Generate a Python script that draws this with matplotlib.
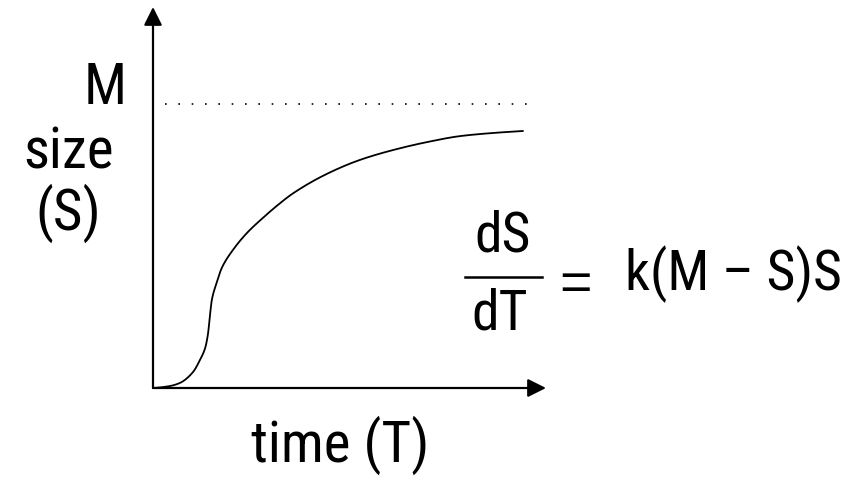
import matplotlib
matplotlib.use("Agg")
import matplotlib.pyplot as plt
import numpy as np

# Data (time T, size S as a fraction of M)
time_T = [0.0, 0.46, 0.73, 1.08, 1.27, 1.41, 1.49, 1.54, 1.59, 1.70, 1.86, 2.16, 2.54, 2.97,
          3.38, 3.78, 4.70, 5.59, 6.49, 7.41, 8.30, 9.19, 10.0]
size_S = [0.0, 0.007, 0.018, 0.056, 0.099, 0.141, 0.194, 0.257, 0.31, 0.363, 0.423, 0.486,
          0.546, 0.599, 0.645, 0.685, 0.754, 0.803, 0.838, 0.866, 0.887, 0.898, 0.905]
M_level = 1.0
x_label = "time (T)"
y_labels = ["M", "size", "(S)"]
equation_num = "dS"
equation_den = "dT"
equation_eq = "="
equation_rhs = "k(M \u2013 S)S"

W, H = 855, 479
fig = plt.figure(figsize=(W / 100, H / 100), dpi=100)
fam = ["Liberation Sans Narrow", "Roboto Condensed", "Open Sans Condensed", "Liberation Sans", "DejaVu Sans"]

def fx(px):
    return px / W

def fy(py):
    return 1 - py / H

# axes: pixel x 153..523 -> T 0..10 ; pixel y 388..104 -> S 0..1
PX_PER_T = 37.0
PX_PER_S = 284.0
ax = fig.add_axes([fx(153), fy(388), 10 * PX_PER_T / W, PX_PER_S / H])
ax.set_xlim(0, 10)
ax.set_ylim(0, 1)
ax.axis("off")

def pchip(x, y, xn):
    x = np.asarray(x, float); y = np.asarray(y, float)
    h = np.diff(x)
    d = np.diff(y) / h
    m = np.zeros_like(y)
    for k in range(1, len(x) - 1):
        if d[k - 1] * d[k] <= 0:
            m[k] = 0
        else:
            w1 = 2 * h[k] + h[k - 1]
            w2 = h[k] + 2 * h[k - 1]
            m[k] = (w1 + w2) / (w1 / d[k - 1] + w2 / d[k])
    m[0] = d[0] * 0.5
    m[-1] = d[-1]
    out = np.empty_like(xn)
    idx = np.clip(np.searchsorted(x, xn) - 1, 0, len(x) - 2)
    for i, (xi, k) in enumerate(zip(xn, idx)):
        hk = h[k]
        u = (xi - x[k]) / hk
        h00 = 2 * u**3 - 3 * u**2 + 1
        h10 = u**3 - 2 * u**2 + u
        h01 = -2 * u**3 + 3 * u**2
        h11 = u**3 - u**2
        out[i] = h00 * y[k] + h10 * hk * m[k] + h01 * y[k + 1] + h11 * hk * m[k + 1]
    return out

tt = np.linspace(time_T[0], time_T[-1], 1000)
ax.plot(tt, pchip(time_T, size_S, tt), color="black", lw=1.3, clip_on=False,
        solid_capstyle="round")

# dotted asymptote at M
ax.plot([(165 - 153) / PX_PER_T, (527 - 153) / PX_PER_T], [M_level, M_level], color="black",
        lw=1.2, linestyle=(0, (1, 7)), clip_on=False)

# axes arrows
x_end = (546 - 153) / PX_PER_T
y_end = (388 - 7) / PX_PER_S
astyle = "-|>,head_length=1.1,head_width=0.55"
ax.annotate("", xy=(x_end, 0), xytext=(0, 0),
            arrowprops=dict(arrowstyle=astyle, color="black", lw=1.6,
                            shrinkA=0, shrinkB=0), annotation_clip=False)
ax.annotate("", xy=(0, y_end), xytext=(0, 0),
            arrowprops=dict(arrowstyle=astyle, color="black", lw=1.6,
                            shrinkA=0, shrinkB=0), annotation_clip=False)

fs_left = 41
fs = 40
# y labels
fig.text(fx(105), fy(104), y_labels[0], ha="center", va="baseline", fontsize=fs_left, family=fam)
fig.text(fx(68), fy(168), y_labels[1], ha="center", va="baseline", fontsize=fs_left, family=fam)
fig.text(fx(68), fy(230), y_labels[2], ha="center", va="baseline", fontsize=fs_left, family=fam)

# x label
fig.text(fx(340), fy(462), x_label, ha="center", va="baseline", fontsize=fs + 1, family=fam)

# equation
fig.text(fx(503), fy(252), equation_num, ha="center", va="baseline", fontsize=fs, family=fam)
fig.text(fx(500), fy(330), equation_den, ha="center", va="baseline", fontsize=fs, family=fam)
fig.add_artist(plt.Line2D([fx(465), fx(542)], [fy(277), fy(277)], color="black", lw=1.8))
fig.text(fx(575), fy(280), equation_eq, ha="center", va="center_baseline", fontsize=fs,
         family=["Liberation Sans", "DejaVu Sans"])
fig.text(fx(625), fy(290), equation_rhs, ha="left", va="baseline", fontsize=fs, family=fam)

fig.savefig("out.png", dpi=100, facecolor="white")
